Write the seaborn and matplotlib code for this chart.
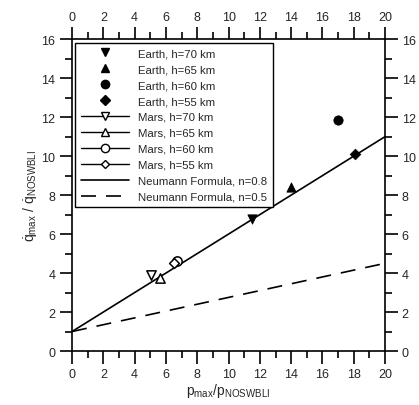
import matplotlib
matplotlib.use("Agg")
import matplotlib.pyplot as plt
from matplotlib.lines import Line2D
from matplotlib.ticker import MultipleLocator
import seaborn as sns
import pandas as pd

# ============================
# Data
# ============================
earth_labels = ["Earth, h=70 km", "Earth, h=65 km", "Earth, h=60 km", "Earth, h=55 km"]
earth_x = [11.5, 14.0, 17.0, 18.1]
earth_y = [6.75, 8.4, 11.85, 10.1]
earth_markers = ["v", "^", "o", "D"]

mars_labels = ["Mars, h=70 km", "Mars, h=65 km", "Mars, h=60 km", "Mars, h=55 km"]
mars_x = [5.05, 5.6, 6.7, 6.5]
mars_y = [3.9, 3.75, 4.6, 4.5]
mars_markers = ["v", "^", "o", "D"]

neumann_x = [0, 20]
neumann_08 = [1.0, 11.0]
neumann_05 = [1.0, 4.5]

# ============================
# Style
# ============================
sns.set_theme(style="ticks")
plt.rcParams["font.family"] = ["Liberation Sans", "DejaVu Sans"]
plt.rcParams["mathtext.fontset"] = "custom"
plt.rcParams["mathtext.rm"] = "Liberation Sans"
plt.rcParams["mathtext.it"] = "Liberation Sans"

fig = plt.figure(figsize=(4.19, 4.06), dpi=100)
ax = fig.add_axes([0.172, 0.133, 0.747, 0.768])

# Neumann formula lines
line_df = pd.DataFrame({"x": neumann_x * 2,
                        "y": neumann_08 + neumann_05,
                        "n": ["0.8"] * 2 + ["0.5"] * 2})
sns.lineplot(data=line_df[line_df["n"] == "0.8"], x="x", y="y", color="black",
             linewidth=1.2, ax=ax, legend=False)
sns.lineplot(data=line_df[line_df["n"] == "0.5"], x="x", y="y", color="black",
             linewidth=1.2, ax=ax, legend=False, dashes=False)
ax.lines[-1].set_dashes([9, 6])

# Earth (filled) and Mars (open) points
for x, y, m in zip(earth_x, earth_y, earth_markers):
    sns.scatterplot(x=[x], y=[y], marker=m, s=45 if m != "D" else 30,
                    color="black", edgecolor="black", ax=ax, zorder=3)
for x, y, m in zip(mars_x, mars_y, mars_markers):
    sns.scatterplot(x=[x], y=[y], marker=m, s=45 if m != "D" else 25,
                    facecolor="white", edgecolor="black", linewidth=1.1,
                    ax=ax, zorder=3)

# Legend
handles = []
for lab, m in zip(earth_labels, earth_markers):
    handles.append(Line2D([], [], linestyle="none", marker=m, color="black",
                          markersize=6 if m != "D" else 5, label=lab))
for lab, m in zip(mars_labels, mars_markers):
    handles.append(Line2D([], [], color="black", linewidth=1, marker=m,
                          markerfacecolor="white", markeredgecolor="black",
                          markersize=6 if m != "D" else 4.5, label=lab))
handles.append(Line2D([], [], color="black", linewidth=1.2, label="Neumann Formula, n=0.8"))
handles.append(Line2D([], [], color="black", linewidth=1.2, dashes=[9, 6],
                      label="Neumann Formula, n=0.5"))
leg = ax.legend(handles=handles, loc="upper left", fontsize=8.2, frameon=True,
                fancybox=False, edgecolor="black", framealpha=1,
                handlelength=4.2, borderaxespad=0.3, labelspacing=0.52,
                borderpad=0.5, handletextpad=0.8)
leg.get_frame().set_linewidth(1.0)

# Axes
ax.set_xlim(0, 20)
ax.set_ylim(0, 16)
ax.xaxis.set_major_locator(MultipleLocator(2))
ax.xaxis.set_minor_locator(MultipleLocator(1))
ax.yaxis.set_major_locator(MultipleLocator(2))
ax.yaxis.set_minor_locator(MultipleLocator(1))
ax.tick_params(which="both", direction="out", top=True, right=True,
               labeltop=True, labelright=True, color="black", width=1.2,
               labelsize=9, pad=3)
ax.tick_params(which="major", length=9)
ax.tick_params(which="minor", length=5)
for sp in ax.spines.values():
    sp.set_linewidth(1.2)
    sp.set_color("black")

ax.set_xlabel(r"$\mathrm{p_{max}/p_{NOSWBLI}}$", fontsize=10, labelpad=1)
ax.set_ylabel(r"$\mathrm{\dot{q}_{max}}$ / $\mathrm{\dot{q}_{NOSWBLI}}$", fontsize=10, labelpad=2)

fig.savefig("out.png", dpi=100)
